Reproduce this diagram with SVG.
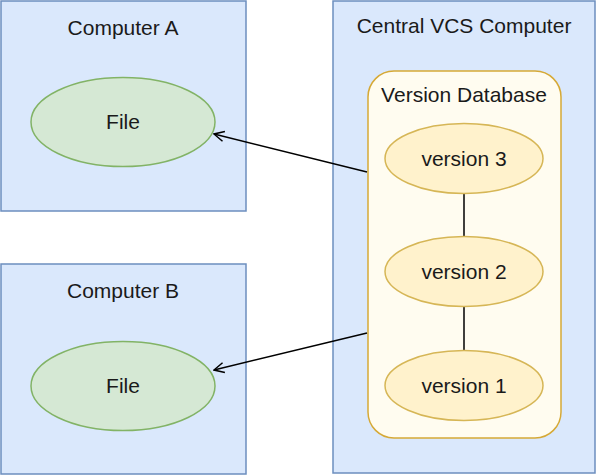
<svg xmlns="http://www.w3.org/2000/svg" width="599" height="476" viewBox="0 0 599 476">
<defs>
<style>
.box{fill:#dae8fc;stroke:#6c8ebf;stroke-width:1.5}
.file{fill:#d5e8d4;stroke:#82b366;stroke-width:1.5}
.db{fill:#fffcf0;stroke:#d6a936;stroke-width:1.5}
.ver{fill:#fff2cc;stroke:#d6b656;stroke-width:1.5}
text{font-family:"Liberation Sans",Arial,sans-serif;font-size:21px;fill:#1a1a1a;text-anchor:middle}
.edge{stroke:#000;stroke-width:1.5;fill:none}
</style>
<marker id="arr" viewBox="0 0 12 12" refX="11" refY="6" markerWidth="12" markerHeight="12" markerUnits="userSpaceOnUse" orient="auto">
<path d="M1,1 L11,6 L1,11" fill="none" stroke="#000" stroke-width="1.5"/>
</marker>
</defs>
<g id="computerA">
<rect class="box" x="1" y="1" width="245" height="210"/>
<text x="123" y="35">Computer A</text>
</g>
<g id="fileA">
<ellipse class="file" cx="123" cy="122" rx="92" ry="44.5"/>
<text x="123" y="129">File</text>
</g>
<g id="computerB">
<rect class="box" x="1" y="264" width="245" height="210"/>
<text x="123" y="298">Computer B</text>
</g>
<g id="fileB">
<ellipse class="file" cx="123" cy="386" rx="92" ry="44.5"/>
<text x="123" y="393">File</text>
</g>
<g id="central">
<rect class="box" x="333" y="1" width="262" height="472"/>
<text x="464" y="33">Central VCS Computer</text>
</g>
<g id="versionDatabase">
<rect class="db" x="368" y="71" width="193" height="367" rx="26" ry="26"/>
<text x="464" y="102">Version Database</text>
</g>
<g id="connectors">
<path class="edge" d="M367,172 L214,134" marker-end="url(#arr)"/>
<path class="edge" d="M367,333 L214,370" marker-end="url(#arr)"/>
<path class="edge" d="M464,193 L464,237"/>
<path class="edge" d="M464,307 L464,351"/>
</g>
<g id="version3">
<ellipse class="ver" cx="464" cy="158.5" rx="79" ry="35"/>
<text x="464" y="165.5">version 3</text>
</g>
<g id="version2">
<ellipse class="ver" cx="464" cy="271.5" rx="79" ry="35"/>
<text x="464" y="278.5">version 2</text>
</g>
<g id="version1">
<ellipse class="ver" cx="464" cy="385.5" rx="79" ry="35"/>
<text x="464" y="392.5">version 1</text>
</g>
</svg>
